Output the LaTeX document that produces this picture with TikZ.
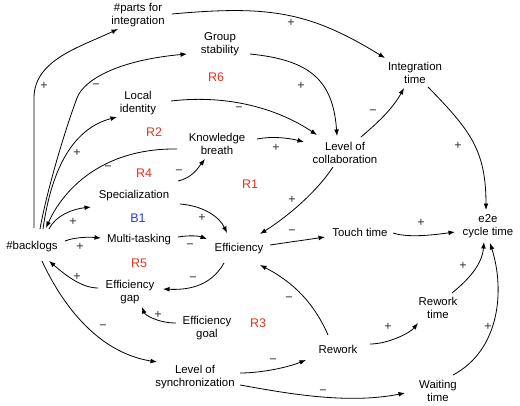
\documentclass[tikz,border=0pt]{standalone}
\usepackage{fontspec}
\setmainfont{Liberation Sans}
\usetikzlibrary{arrows.meta}
\definecolor{loopred}{RGB}{232,52,28}
\definecolor{loopblue}{RGB}{38,58,232}
\definecolor{signgray}{RGB}{50,50,50}
\begin{document}
\begin{tikzpicture}[x=1pt,y=1pt,
  var/.style={font=\fontsize{11.4}{13}\selectfont, align=center, inner sep=1pt},
  loopl/.style={font=\fontsize{12.5}{14}\selectfont, inner sep=0pt},
  sgn/.style={font=\fontsize{12.5}{14}\selectfont, text=signgray, inner sep=0pt},
  arr/.style={-{Latex[length=6.5pt,width=4.8pt]}, line width=0.8pt}]
\fill[white] (0,0) rectangle (520,-405);
\useasboundingbox (0,0) rectangle (520,-405);

% variables
\node[var] (parts) at (138,-15) {\#parts for\\integration};
\node[var] (group) at (220,-44) {Group\\stability};
\node[var] (local) at (138,-103) {Local\\identity};
\node[var] (kb) at (217,-144) {Knowledge\\breath};
\node[var] (spec) at (134,-196) {Specialization};
\node[var] (multi) at (139,-240) {Multi-tasking};
\node[var] (backlogs) at (32,-247) {\#backlogs};
\node[var] (eff) at (239,-249) {Efficiency};
\node[var] (effgap) at (130,-292) {Efficiency\\gap};
\node[var] (effgoal) at (207,-328) {Efficiency\\goal};
\node[var] (sync) at (195,-377) {Level of\\synchronization};
\node[var] (integ) at (415,-73) {Integration\\time};
\node[var] (collab) at (345,-153) {Level of\\collaboration};
\node[var] (e2e) at (488,-226) {e2e\\cycle time};
\node[var] (touch) at (360,-232) {Touch time};
\node[var] (rwtime) at (438,-308) {Rework\\time};
\node[var] (rework) at (338,-349) {Rework};
\node[var] (wait) at (438,-391) {Waiting\\time};

% loop labels
\node[loopl,text=loopred] (R6) at (216,-77) {R6};
\node[loopl,text=loopred] (R2) at (154,-132) {R2};
\node[loopl,text=loopred] (R4) at (144,-173) {R4};
\node[loopl,text=loopred] (R1) at (250,-184) {R1};
\node[loopl,text=loopblue] (B1) at (138,-218) {B1};
\node[loopl,text=loopred] (R5) at (139,-263) {R5};
\node[loopl,text=loopred] (R3) at (258,-323) {R3};

% connectors
\draw[arr] ([shift={(2,19)}]backlogs.center) -- ++(0,130) .. controls +(0,38) and +(-38,-18) .. ([shift={(-20,-14)}]parts.center);
\draw[arr] ([shift={(8,18)}]backlogs.center) .. controls +(7,39) and +(-12,-32) .. ++(37,131) .. controls +(7,19) and +(-67,-6) .. ([shift={(-33,-10)}]group.center);
\draw[arr] ([shift={(11,18)}]backlogs.center) .. controls +(9,64) and +(-42,-11) .. ([shift={(-21,-14)}]local.center);
\draw[arr] ([shift={(-40,-5)}]kb.center) .. controls +(-77,1) and +(16,36) .. ([shift={(14,19)}]backlogs.center);
\draw[arr] ([shift={(17,18)}]backlogs.center) .. controls +(7,14) and +(-18,-2) .. ([shift={(-43,-11)}]spec.center);
\draw[arr] ([shift={(33,6)}]backlogs.center) .. controls +(10,4) and +(-12,1) .. ([shift={(-38,2)}]multi.center);
\draw[arr] ([shift={(-32,4)}]effgap.center) .. controls +(-18,0) and +(13,-11) .. ([shift={(17,-14)}]backlogs.center);
\draw[arr] ([shift={(10,-14)}]backlogs.center) .. controls +(18,-39) and +(-62,10) .. ([shift={(-38,15)}]sync.center);
\draw[arr] ([shift={(46,-8)}]spec.center) .. controls +(25,-2) and +(-7,15) .. ([shift={(-12,16)}]eff.center);
\draw[arr] ([shift={(39,3)}]multi.center) .. controls +(12,2) and +(-8,3) .. ([shift={(-32,10)}]eff.center);
\draw[arr] ([shift={(-15,-14)}]eff.center) .. controls +(-14,-25) and +(22,-1) .. ([shift={(33,3)}]effgap.center);
\draw[arr] ([shift={(-31,5)}]effgoal.center) .. controls +(-18,0) and +(3,-8) .. ([shift={(12,-15)}]effgap.center);
\draw[arr] ([shift={(44,15)}]spec.center) .. controls +(14,3) and +(-7,-9) .. ([shift={(-12,-15)}]kb.center);
\draw[arr] ([shift={(33,2)}]local.center) .. controls +(59,7) and +(-37,25) .. ([shift={(-28,18)}]collab.center);
\draw[arr] ([shift={(40,5)}]kb.center) .. controls +(15,3) and +(-15,4) .. ([shift={(-41,11)}]collab.center);
\draw[arr] ([shift={(30,-10)}]group.center) .. controls +(60,-6) and +(-4,56) .. ([shift={(-8,17)}]collab.center);
\draw[arr] ([shift={(16,16)}]collab.center) .. controls +(14,12) and +(-12,-22) .. ([shift={(-11,-15)}]integ.center);
\draw[arr] ([shift={(34,1)}]parts.center) .. controls +(98,9) and +(-75,46) .. ([shift={(-30,15)}]integ.center);
\draw[arr] ([shift={(-12,-14)}]collab.center) .. controls +(-15,-23) and +(30,19) .. ([shift={(21,15)}]eff.center);
\draw[arr] ([shift={(31,4)}]eff.center) .. controls +(20,3) and +(-20,-3) .. ([shift={(-35,-5)}]touch.center);
\draw[arr] ([shift={(33,-1)}]touch.center) .. controls +(15,-5) and +(-22,-3) .. ([shift={(-33,-6)}]e2e.center);
\draw[arr] ([shift={(13,-14)}]integ.center) .. controls +(42,-43) and +(0,60) .. ([shift={(-2,16)}]e2e.center);
\draw[arr] ([shift={(14,15)}]rwtime.center) .. controls +(16,13) and +(-2,-23) .. ([shift={(-4,-16)}]e2e.center);
\draw[arr] ([shift={(15,16)}]wait.center) .. controls +(47,25) and +(15,-47) .. ([shift={(2,-17)}]e2e.center);
\draw[arr] ([shift={(-10,14)}]rework.center) .. controls +(-13,30) and +(35,-18) .. ([shift={(21,-16)}]eff.center);
\draw[arr] ([shift={(32,5)}]rework.center) .. controls +(18,0) and +(-8,-10) .. ([shift={(-20,-15)}]rwtime.center);
\draw[arr] ([shift={(45,4)}]sync.center) .. controls +(20,0) and +(-20,-8) .. ([shift={(-32,-11)}]rework.center);
\draw[arr] ([shift={(45,-8)}]sync.center) .. controls +(40,-7) and +(-60,-12) .. ([shift={(-33,-2)}]wait.center);

% polarity signs
\node[sgn] (s1) at (44,-86) {+};
\node[sgn] (s2) at (96,-86) {−};
\node[sgn] (s3) at (239,-109) {−};
\node[sgn] (s4) at (77,-153) {+};
\node[sgn] (s5) at (108,-168) {−};
\node[sgn] (s6) at (179,-172) {−};
\node[sgn] (s7) at (291,-23) {+};
\node[sgn] (s8) at (301,-86) {+};
\node[sgn] (s9) at (373,-112) {−};
\node[sgn] (s10) at (276,-148) {+};
\node[sgn] (s11) at (458,-146) {+};
\node[sgn] (s12) at (292,-200) {+};
\node[sgn] (s13) at (73,-222) {+};
\node[sgn] (s14) at (202,-218) {+};
\node[sgn] (s15) at (80,-247) {+};
\node[sgn] (s16) at (190,-246) {−};
\node[sgn] (s17) at (77,-277) {+};
\node[sgn] (s18) at (193,-279) {−};
\node[sgn] (s19) at (158,-315) {+};
\node[sgn] (s20) at (103,-327) {−};
\node[sgn] (s21) at (292,-232) {−};
\node[sgn] (s22) at (421,-223) {+};
\node[sgn] (s23) at (463,-266) {+};
\node[sgn] (s24) at (289,-299) {−};
\node[sgn] (s25) at (388,-327) {+};
\node[sgn] (s26) at (488,-327) {+};
\node[sgn] (s27) at (273,-361) {−};
\node[sgn] (s28) at (323,-392) {−};
\end{tikzpicture}
\end{document}
